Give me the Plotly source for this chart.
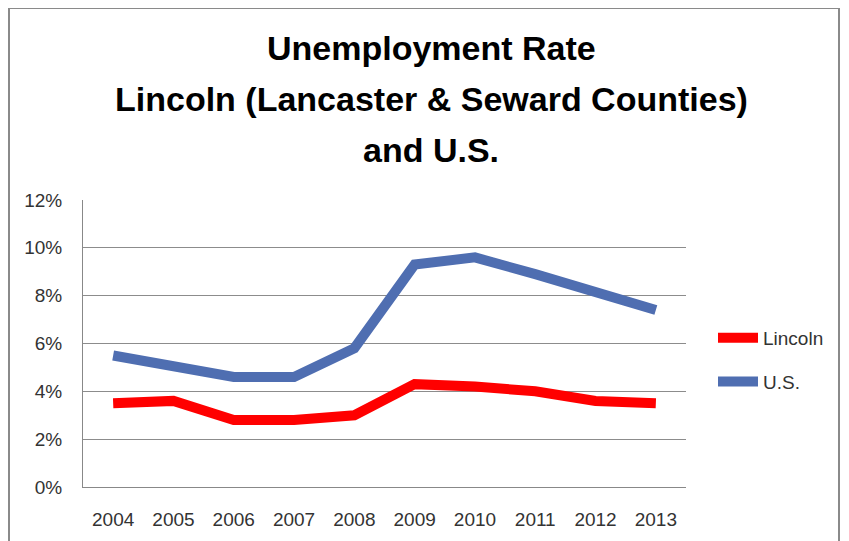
import plotly.graph_objects as go

years = ["2004", "2005", "2006", "2007", "2008", "2009", "2010", "2011", "2012", "2013"]
lincoln = [3.5, 3.6, 2.8, 2.8, 3.0, 4.3, 4.2, 4.0, 3.6, 3.5]
us = [5.5, 5.1, 4.6, 4.6, 5.8, 9.3, 9.6, 8.9, 8.1, 7.4]
y_ticks = [0, 2, 4, 6, 8, 10, 12]
y_tick_labels = ["0%", "2%", "4%", "6%", "8%", "10%", "12%"]
title_lines = ["Unemployment Rate", "Lincoln (Lancaster & Seward Counties)", "and U.S."]

FONT = "Liberation Sans"
TXT = "#333333"

# page body has an 8px margin, so the figure is 8px smaller than the window
W, H = 841, 533
L, R, T, B = 75, 163, 192, 54
pw, ph = W - L - R, H - T - B


def px(x):
    return (x - L) / pw


def py(y):
    return (H - B - y) / ph


fig = go.Figure()
fig.add_trace(go.Scatter(x=years, y=lincoln, mode="lines", name="Lincoln",
                         legendgroup="a",
                         line=dict(color="#FF0000", width=10)))
fig.add_trace(go.Scatter(x=years, y=us, mode="lines", name="U.S.",
                         legendgroup="b",
                         line=dict(color="#4F6EB1", width=10)))

annotations = []
for i, line in enumerate(title_lines):
    annotations.append(dict(
        text="<b>" + line + "</b>", xref="paper", yref="paper",
        x=px(423), y=py(40 + 51 * i), xanchor="center", yanchor="middle",
        showarrow=False, font=dict(family=FONT, size=34, color="#000000"),
    ))

fig.update_layout(
    width=W, height=H,
    margin=dict(l=L, r=R, t=T, b=B),
    paper_bgcolor="white", plot_bgcolor="white",
    font=dict(family=FONT, color=TXT, size=19),
    showlegend=True,
    legend=dict(x=px(705), xanchor="left", y=py(352), yanchor="middle",
                font=dict(size=19, color=TXT), bgcolor="rgba(0,0,0,0)",
                traceorder="grouped", tracegroupgap=16, itemwidth=40),
    xaxis=dict(type="category", range=[-0.5, 9.5], showgrid=False,
               showline=True, linecolor="#888888", linewidth=1,
               ticks="", ticklabelstandoff=15, tickfont=dict(size=19, color=TXT)),
    yaxis=dict(range=[0, 12], tickvals=y_ticks, ticktext=y_tick_labels,
               showgrid=True, gridcolor="#8c8c8c", gridwidth=1,
               showline=True, linecolor="#888888", linewidth=1,
               zeroline=False, ticks="", ticklabelstandoff=16,
               tickfont=dict(size=19, color=TXT)),
    annotations=annotations,
    shapes=[dict(type="rect", xref="paper", yref="paper",
                 x0=px(1), x1=px(831), y0=py(560), y1=py(0),
                 line=dict(color="#8a8a8a", width=2), fillcolor="rgba(0,0,0,0)",
                 layer="below")],
)

fig.write_html("out.html")
